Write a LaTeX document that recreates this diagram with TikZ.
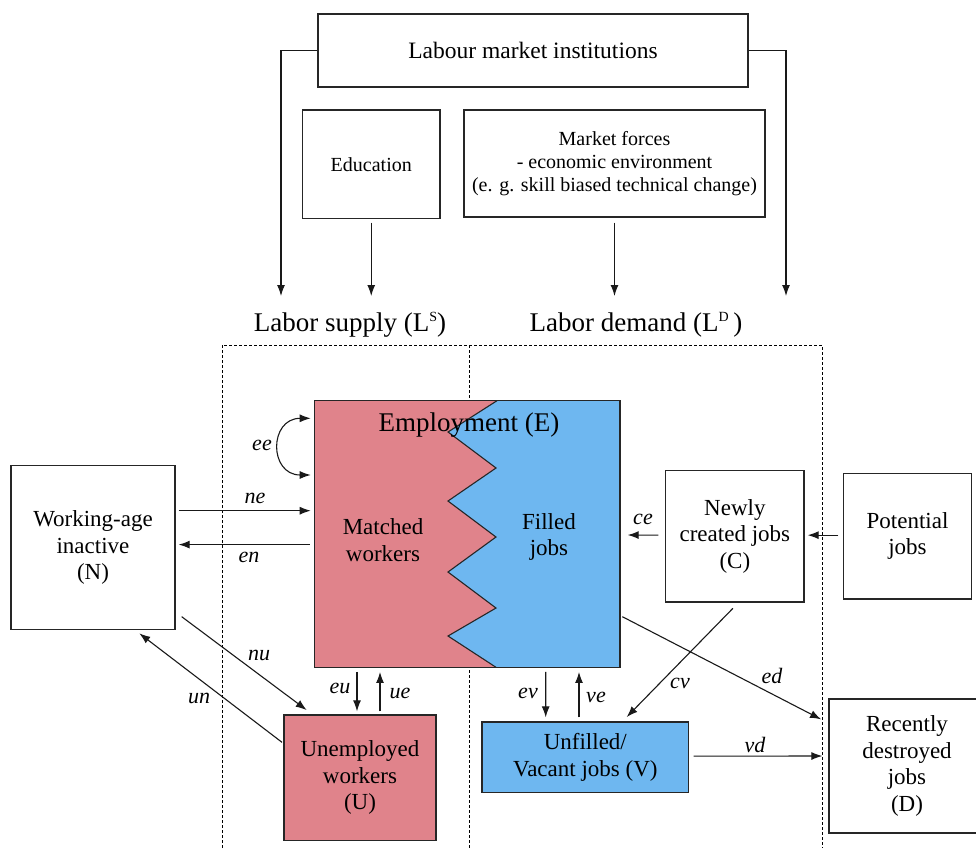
\documentclass[tikz,border=0pt]{standalone}
\usepackage{fontspec}
\setmainfont{Liberation Serif}
\usetikzlibrary{arrows.meta,calc}
\definecolor{pinkf}{RGB}{224,131,139}
\definecolor{bluef}{RGB}{110,183,240}
\newcommand{\mysup}[1]{\raisebox{0.8ex}{\fontsize{14}{14}\selectfont #1}}
\begin{document}
\begin{tikzpicture}[x=1pt,y=-1pt,
  box/.style={draw=black!85, line width=1.3pt, inner sep=0pt, align=center, font=\fontsize{23}{26.5}\selectfont},
  txt/.style={inner sep=0pt, align=center, font=\fontsize{23}{26.5}\selectfont},
  lab/.style={inner sep=0pt, font=\fontsize{22}{24}\selectfont\itshape},
  arr/.style={-{Latex[length=11pt,width=8pt]}, line width=1.1pt, draw=black!90},
  dashln/.style={line width=0.9pt, dash pattern=on 3pt off 2pt},
]
\useasboundingbox (0,0) rectangle (976,848);

% dashed frame
\draw[dashln] (222,848) -- (222,345) -- (822,345) -- (822,848);
\draw[dashln] (469,345) -- (469,848);

% top boxes
\node[box, minimum width=430, minimum height=73, font=\fontsize{23.5}{28}\selectfont] (lmi) at (533,50.5) {Labour market institutions};
\node[box, minimum width=137.5, minimum height=108.5, font=\fontsize{20}{23}\selectfont] (edu) at (371.25,164.25) {Education};
\node[box, minimum width=301, minimum height=107, font=\fontsize{20}{23}\selectfont] (mkt) at (614.5,163.5) {Market forces\\- economic environment\\(e. g. skill biased technical change)};

\coordinate (ls) at (281,296);
\coordinate (rs) at (786,296);
\draw[arr] (lmi.west) -| (ls);
\draw[arr] (lmi.east) -| (rs);
\draw[arr] ([yshift=-3.5pt]edu.south) -- (edu.south |- ls);
\draw[arr] ([yshift=-5pt]mkt.south) -- (mkt.south |- ls);

\node[txt, font=\fontsize{27}{30}\selectfont] (lsup) at (350,325) {Labor supply (L\mysup{S})};
\node[txt, font=\fontsize{27}{30}\selectfont] (ldem) at (636,325) {Labor demand (L\mysup{D}\,)};

% employment box
\fill[pinkf] (314.35,400.7) -- (497,400.7) -- (448,432) -- (496,468) -- (448,501) -- (496,537) -- (448,572) -- (496,608) -- (448,636) -- (496,667.3) -- (314.35,667.3) -- cycle;
\fill[bluef] (620,400.7) -- (497,400.7) -- (448,432) -- (496,468) -- (448,501) -- (496,537) -- (448,572) -- (496,608) -- (448,636) -- (496,667.3) -- (620,667.3) -- cycle;
\draw[line width=1.1pt, black!85, line join=miter] (497,400.7) -- (448,432) -- (496,468) -- (448,501) -- (496,537) -- (448,572) -- (496,608) -- (448,636) -- (496,667.3);
\node[box, minimum width=305.65, minimum height=266.6] (E) at (467.2,534) {};
\node[txt, font=\fontsize{27}{30}\selectfont] (Et) at (469,425) {Employment (E)};
\node[txt] (Mw) at (383,540) {Matched\\workers};
\node[txt] (Fj) at (549,537) {Filled\\jobs};

% other boxes
\node[box, minimum width=164, minimum height=163.6] (N) at (93,547.5) {Working-age\\inactive\\(N)};
\node[box, fill=pinkf, minimum width=152, minimum height=125.7] (U) at (360,777.85) {Unemployed\\workers\\(U)};
\node[box, fill=bluef, minimum width=206.7, minimum height=70.3] (V) at (585.35,757.15) {Unfilled/\\Vacant jobs (V)};
\node[box, minimum width=138.3, minimum height=131.7] (C) at (734.85,536.15) {Newly\\created jobs\\(C)};
\node[box, minimum width=128.4, minimum height=125.7] (P) at (907.5,536.15) {Potential\\jobs};
\node[box, minimum width=156, minimum height=134] (D) at (907,766) {Recently\\destroyed\\jobs\\(D)};

% connectors
\draw[{Latex[length=11pt,width=8pt]}-{Latex[length=11pt,width=8pt]}, line width=1.1pt, black!90]
  ($(E.west)+(-3,-115.7)$) .. controls +(-42,0) and +(-42,0) .. ($(E.west)+(-3,-59)$);
\draw[arr] ($(N.east)+(3,-36.8)$) -- ($(E.west)+(-3,-23.3)$);
\draw[arr] ($(E.west)+(-4,10.6)$) -- ($(N.east)+(3,-2.9)$);
\draw[arr] ($(N.south east)+(6,-13.3)$) -- ($(U.north west)+(23.3,-4.3)$);
\draw[arr] ($(U.west)+(-1.3,-35.5)$) -- ($(N.south)+(46.3,3.4)$);
\draw[arr] ($(E.south)+(-110.2,4)$) -- ($(U.north)+(-3,-3)$);
\draw[arr] ($(U.north)+(20,-3)$) -- ($(E.south)+(-87.2,4)$);
\draw[arr] ($(E.south)+(78.5,4)$) -- ($(V.north)+(-39.65,-4)$);
\draw[arr] ($(V.north)+(-6.35,-4)$) -- ($(E.south)+(111.8,4)$);
\draw[arr] ($(C.west)+(-6.7,-1)$) -- ($(E.east)+(7,1)$);
\draw[arr] ($(P.west)+(-4.3,-1)$) -- ($(C.east)+(3,-1)$);
\draw[arr] ($(C.south)+(-2,5.7)$) -- ($(V.north)+(41.35,-4.3)$);
\draw[arr] ($(E.east)+(1.7,82.7)$) -- ($(D.west)+(-7.3,-46.7)$);
\draw[arr] ($(V.east)+(4.3,-1)$) -- ($(D.west)+(-6,-10)$);

% labels
\node[lab] (lee) at (262,445) {ee};
\node[lab] (lne) at (255,498) {ne};
\node[lab] (len) at (249,557) {en};
\node[lab] (lnu) at (259,655) {nu};
\node[lab] (lun) at (199,698) {un};
\node[lab] (leu) at (340,688) {eu};
\node[lab] (lue) at (400,693) {ue};
\node[lab] (lev) at (528,693) {ev};
\node[lab] (lve) at (596,697) {ve};
\node[lab] (lce) at (643,519) {ce};
\node[lab] (lcv) at (680,683) {cv};
\node[lab] (led) at (772,676) {ed};
\node[lab] (lvd) at (755,745) {vd};
\end{tikzpicture}
\end{document}
